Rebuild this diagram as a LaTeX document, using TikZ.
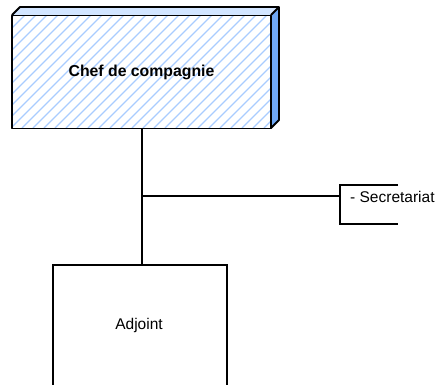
\documentclass[tikz,border=0pt]{standalone}
\usepackage{fontspec}
\setmainfont{Liberation Sans}
\definecolor{hatchblue}{HTML}{A9CCFF}
\definecolor{topblue}{HTML}{D2E5FF}
\definecolor{sideblue}{HTML}{6FA8F5}
\begin{document}
\begin{tikzpicture}[x=1pt,y=-1pt,
  boxline/.style={draw=black,line width=1.8pt},
  conn/.style={draw=black,line width=1.5pt},
  lbl/.style={font=\fontsize{15.5}{18}\selectfont}]
\useasboundingbox (0,0) rectangle (441,384);
% top 3D box faces
\fill[topblue] (12,15) -- (20,7) -- (279,7) -- (271,15) -- cycle;
\fill[sideblue] (271,15) -- (279,7) -- (279,120) -- (271,128) -- cycle;
\begin{scope}
  \clip (12,15) rectangle (271,128);
  \foreach \i in {-121,-110,...,280}{
    \draw[hatchblue,line width=1.1pt] (\i,128) -- (\i+113,15);
  }
\end{scope}
\node[boxline,line join=round,minimum width=259pt,minimum height=113pt,inner sep=0pt,
      font=\fontsize{15.8}{18}\selectfont\bfseries] (chef) at (141.5,72) {Chef de compagnie};
\draw[boxline,line join=round] (12,15) -- (20,7) -- (279,7) -- (279,120) -- (271,128);
\draw[boxline] (271,15) -- (279,7);
% bottom box
\node[draw=black,line width=1.5pt,minimum width=174pt,minimum height=126pt,inner sep=0pt,
      anchor=north west] (adj) at (52,264) {};
\node[lbl] (adjt) at (139,325) {Adjoint};
% connectors
\coordinate (jn) at (142,196);
\coordinate (brk) at (340,196);
\draw[conn] (chef.south -| jn) -- (adj.north -| jn);
\draw[conn] (jn) -- (brk);
\draw[conn] (398,185) -- (340,185) -- (340,224) -- (398,224);
\node[lbl,anchor=west,inner sep=0pt] (sec) at (350,197) {- Secretariat};
\end{tikzpicture}
\end{document}
